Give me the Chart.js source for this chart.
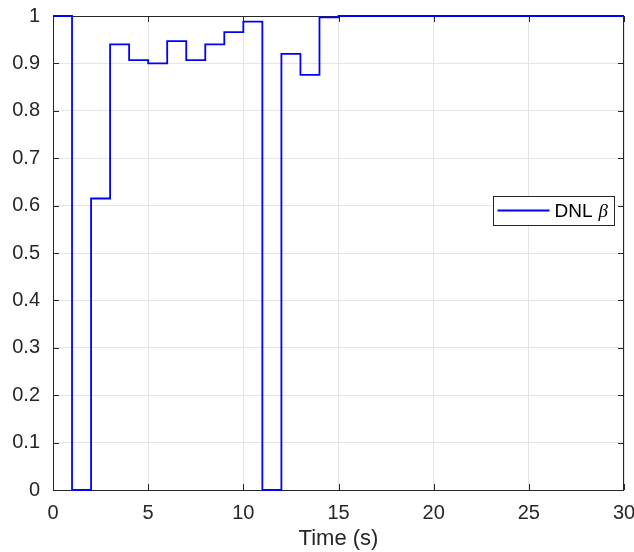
<!DOCTYPE html>
<html>
<head>
<meta charset="utf-8">
<script src="https://cdn.jsdelivr.net/npm/chart.js@4"></script>
<style>
  html, body { margin: 0; padding: 0; background: #fff; }
</style>
</head>
<body>
<canvas id="chart" width="634" height="552"></canvas>
<script>
// step signal, value held from each time until the next one
const times = [0, 1, 2, 3, 4, 5, 6, 7, 8, 9, 10, 11, 12, 13, 14, 15, 30];
const beta = [1, 0, 0.615, 0.94, 0.907, 0.9, 0.947, 0.907, 0.94, 0.966, 0.988, 0, 0.92, 0.876, 0.997, 1, 1];
const xTicks = [0, 5, 10, 15, 20, 25, 30];
const yTickLabels = ['0', '0.1', '0.2', '0.3', '0.4', '0.5', '0.6', '0.7', '0.8', '0.9', '1'];

const axisColor = '#262626';
const fontFamily = '"Liberation Sans", Arial, sans-serif';

// box around the axes with inward ticks, drawn under the line
const boxPlugin = {
    id: 'box',
    beforeDatasetsDraw(chart) {
        const { ctx, chartArea: a, scales } = chart;
        ctx.save();
        ctx.strokeStyle = axisColor;
        ctx.lineWidth = 1;
        ctx.strokeRect(a.left + 0.5, a.top + 0.5, a.right - a.left - 1, a.bottom - a.top);
        const len = 6;
        ctx.beginPath();
        scales.x.ticks.forEach(t => {
            const px = Math.round(scales.x.getPixelForValue(t.value)) + 0.5;
            ctx.moveTo(px, a.bottom); ctx.lineTo(px, a.bottom - len);
            ctx.moveTo(px, a.top); ctx.lineTo(px, a.top + len);
        });
        scales.y.ticks.forEach(t => {
            const py = Math.round(scales.y.getPixelForValue(t.value)) + 0.5;
            ctx.moveTo(a.left, py); ctx.lineTo(a.left + len, py);
            ctx.moveTo(a.right, py); ctx.lineTo(a.right - len, py);
        });
        ctx.stroke();
        ctx.restore();
    },
    afterDraw(chart) {
        // legend: "DNL β" with an italic beta
        const { ctx, chartArea: a } = chart;
        const ds = chart.data.datasets[0];
        ctx.save();
        const right = a.right - 10;
        const top = a.top + 180;
        const h = 29;
        ctx.font = '19px ' + fontFamily;
        const textW = ctx.measureText('DNL').width;
        ctx.font = 'italic 19px "Liberation Serif", "DejaVu Serif", serif';
        const betaW = ctx.measureText('β').width;
        const w = 5 + 52 + 5 + textW + 6 + betaW + 6;
        const left = right - w;
        ctx.fillStyle = '#fff';
        ctx.fillRect(left, top, w, h);
        ctx.strokeStyle = axisColor;
        ctx.lineWidth = 1;
        ctx.strokeRect(Math.round(left) + 0.5, top + 0.5, Math.round(w), h);
        const cy = top + h / 2;
        ctx.strokeStyle = ds.borderColor;
        ctx.lineWidth = ds.borderWidth;
        ctx.beginPath();
        ctx.moveTo(left + 5, cy);
        ctx.lineTo(left + 57, cy);
        ctx.stroke();
        ctx.fillStyle = '#000';
        ctx.textBaseline = 'middle';
        ctx.font = '19px ' + fontFamily;
        ctx.fillText('DNL', left + 62, cy + 1);
        ctx.font = 'italic 19px "Liberation Serif", "DejaVu Serif", serif';
        ctx.fillText('β', left + 62 + textW + 6, cy + 1);
        ctx.restore();
    }
};

new Chart(document.getElementById('chart'), {
    type: 'line',
    data: {
        datasets: [{
            label: 'DNL β',
            data: times.map((t, i) => ({ x: t, y: beta[i] })),
            borderColor: '#0000ff',
            borderWidth: 1.8,
            stepped: 'before',
            pointRadius: 0,
            fill: false,
            clip: false
        }]
    },
    options: {
        responsive: false,
        animation: false,
        layout: { padding: { top: 16, right: 10, left: 0, bottom: 0 } },
        plugins: {
            legend: { display: false },
            tooltip: { enabled: false }
        },
        scales: {
            x: {
                type: 'linear',
                min: 0,
                max: 30,
                afterBuildTicks: scale => {
                    scale.ticks = xTicks.map(v => ({ value: v }));
                },
                afterFit: scale => {
                    scale.height = 62;
                    scale.paddingLeft = 0;
                    scale.paddingRight = 0;
                },
                grid: { color: '#e5e5e5', drawTicks: false },
                border: { display: false },
                ticks: {
                    color: axisColor,
                    padding: 11,
                    maxRotation: 0,
                    font: { size: 20, family: fontFamily }
                },
                title: {
                    display: true,
                    text: 'Time (s)',
                    color: axisColor,
                    padding: { top: 0, bottom: 0 },
                    font: { size: 22, family: fontFamily }
                }
            },
            y: {
                min: 0,
                max: 1,
                afterBuildTicks: scale => {
                    scale.ticks = yTickLabels.map((s, i) => ({ value: i / 10 }));
                },
                afterFit: scale => {
                    scale.width = 53;
                    scale.paddingTop = 0;
                    scale.paddingBottom = 0;
                },
                grid: { color: '#e5e5e5', drawTicks: false },
                border: { display: false },
                ticks: {
                    color: axisColor,
                    padding: 13,
                    font: { size: 20, family: fontFamily },
                    callback: (v, i) => yTickLabels[i]
                }
            }
        }
    },
    plugins: [boxPlugin]
});
</script>
</body>
</html>
